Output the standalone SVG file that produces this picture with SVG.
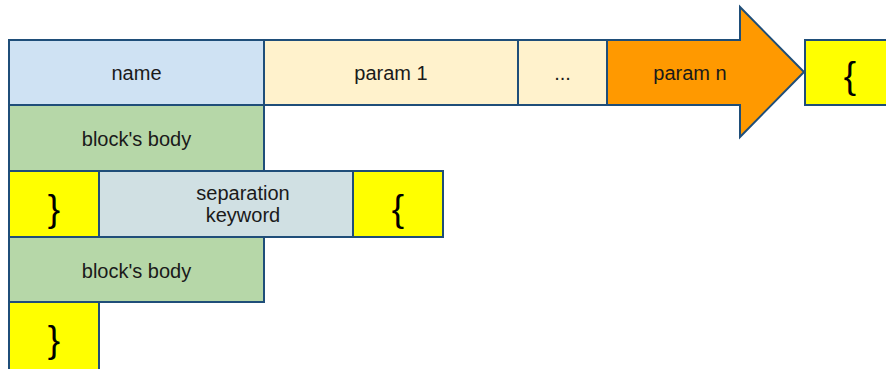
<svg xmlns="http://www.w3.org/2000/svg" width="886" height="369" viewBox="0 0 886 369">
<style>
.b{stroke:#1f4e79;stroke-width:2}
.t{font-family:"Liberation Sans",Arial,sans-serif;font-size:20px;fill:#1a1a1a;text-anchor:middle}
.br{font-family:"Liberation Sans",Arial,sans-serif;font-size:37px;fill:#000;text-anchor:middle}
</style>
<rect width="886" height="369" fill="#fff"/>
<g id="name"><rect class="b" x="9" y="40" width="255" height="65" fill="#cfe2f3"/><text class="t" x="136.5" y="80">name</text></g>
<g id="param1"><rect class="b" x="264" y="40" width="254" height="65" fill="#fff2cc"/><text class="t" x="391" y="80">param 1</text></g>
<g id="ellipsis"><rect class="b" x="518" y="40" width="89" height="65" fill="#fff2cc"/><text class="t" x="562.5" y="80">...</text></g>
<g id="paramn"><path class="b" d="M607,40 L740,40 L740,7 L804,72 L740,137 L740,105 L607,105 Z" fill="#ff9900"/><text class="t" x="690" y="80">param n</text></g>
<g id="open1"><rect class="b" x="805" y="40" width="90" height="65" fill="#ffff00"/><text class="br" x="850" y="88">{</text></g>
<g id="body1"><rect class="b" x="9" y="105" width="255" height="66" fill="#b6d7a8"/><text class="t" x="136.5" y="146">block's body</text></g>
<g id="close1"><rect class="b" x="9" y="171" width="90" height="66" fill="#ffff00"/><text class="br" x="54" y="221">}</text></g>
<g id="sep"><rect class="b" x="99" y="171" width="254" height="66" fill="#d0e0e3"/><text class="t" x="243" y="200">separation</text><text class="t" x="243" y="222">keyword</text></g>
<g id="open2"><rect class="b" x="353" y="171" width="90" height="66" fill="#ffff00"/><text class="br" x="398" y="221">{</text></g>
<g id="body2"><rect class="b" x="9" y="237" width="255" height="65" fill="#b6d7a8"/><text class="t" x="136.5" y="278">block's body</text></g>
<g id="close2"><rect class="b" x="9" y="302" width="90" height="70" fill="#ffff00"/><text class="br" x="54" y="352">}</text></g>
<g id="connectors"></g>
</svg>
